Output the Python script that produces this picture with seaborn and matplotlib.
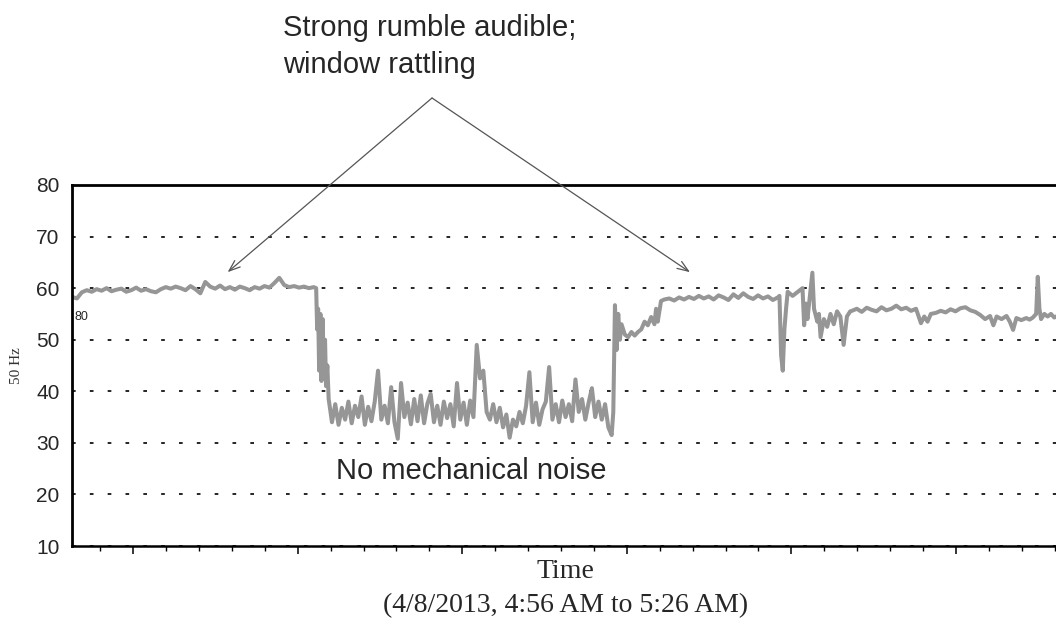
import numpy as np
import pandas as pd
import matplotlib
matplotlib.use("Agg")
import matplotlib.pyplot as plt
import seaborn as sns

# ---------------- data (minutes after 4:56 AM, level in dB at 50 Hz) ----------------
t_a = np.round(np.arange(0.0, 7.36, 0.15), 2)
v_a = [58.3, 58.0, 59.2, 59.6, 59.3, 59.8, 59.5, 60.0, 59.4, 59.7,
       59.9, 59.3, 59.6, 60.1, 59.5, 59.8, 59.4, 59.2, 59.8, 60.2,
       59.9, 60.3, 60.0, 59.6, 60.4, 59.8, 59.0, 61.2, 60.3, 59.9,
       60.5, 59.8, 60.2, 59.7, 60.3, 60.0, 59.6, 60.2, 59.9, 60.4,
       60.1, 61.0, 62.0, 60.6, 60.2, 60.4, 60.1, 60.3, 60.0, 60.2]

t_b = [7.42, 7.45, 7.48, 7.51, 7.55, 7.58, 7.62, 7.65, 7.69, 7.72, 7.76]
v_b = [60.0, 52.0, 56.0, 44.0, 55.0, 42.0, 54.0, 43.0, 50.0, 41.0, 45.0]

t_c = np.round(np.arange(7.8, 16.45, 0.1), 2)
v_c = [38.5, 34.0, 37.5, 33.5, 36.8, 34.5, 38.0, 33.8, 37.2, 35.0,
       39.0, 33.5, 37.0, 34.2, 38.0, 44.0, 34.5, 37.2, 33.8, 40.8,
       34.0, 30.8, 41.6, 35.0, 37.8, 33.6, 38.5, 34.2, 39.2, 33.8,
       37.6, 39.5, 34.0, 37.2, 33.5, 38.0, 34.8, 37.5, 33.2, 41.6,
       34.5, 37.8, 33.5, 38.2, 35.0, 49.0, 42.5, 44.0, 36.0, 34.5,
       37.5, 34.0, 36.8, 33.0, 35.5, 31.0, 34.5, 33.2, 36.0, 33.8,
       37.2, 43.7, 34.0, 37.8, 33.5, 36.5, 38.0, 44.7, 34.5, 37.5,
       34.0, 38.2, 35.0, 37.5, 34.2, 42.3, 36.0, 38.5, 34.5, 37.8,
       40.6, 35.0, 38.0, 34.5, 37.5, 33.0, 31.5]

t_d = [16.45, 16.5, 16.55, 16.6, 16.65, 16.7, 16.8, 16.9, 17.0, 17.1,
       17.2, 17.3, 17.4, 17.5, 17.6, 17.7, 17.75, 17.8, 17.9, 18.0]
v_d = [36.0, 56.7, 48.0, 55.0, 50.0, 53.0, 51.0, 50.5, 51.5, 50.8,
       51.5, 52.0, 53.5, 52.8, 54.4, 53.0, 56.0, 53.5, 57.5, 57.8]

t_e = np.round(np.arange(18.15, 21.46, 0.15), 2)
v_e = [58.0, 57.6, 58.2, 57.8, 58.3, 57.9, 58.5, 58.0, 58.4, 57.8,
       58.6, 58.2, 57.7, 58.8, 58.1, 59.0, 58.3, 57.9, 58.6, 58.0,
       58.4, 57.7, 58.2]

t_f = [21.5, 21.55, 21.6, 21.65, 21.7, 21.75, 21.9, 22.0, 22.1, 22.2,
       22.25, 22.3, 22.35, 22.45, 22.5, 22.55, 22.65, 22.7, 22.75, 22.85,
       22.95, 23.05, 23.15, 23.25, 23.35, 23.45, 23.55, 23.65]
v_f = [58.5, 47.0, 44.0, 52.0, 56.0, 59.3, 58.5, 59.0, 59.5, 60.0,
       52.8, 57.0, 54.0, 60.0, 63.0, 56.0, 53.5, 55.0, 50.5, 54.0,
       52.5, 55.0, 53.0, 55.5, 54.5, 49.0, 54.5, 55.5]

t_g = np.round(np.arange(23.7, 25.66, 0.15), 2)
v_g = [55.6, 56.0, 55.4, 56.2, 55.8, 55.5, 56.3, 55.7, 56.0, 56.6,
       55.9, 56.2, 55.6, 56.0]

t_h = [25.8, 25.9, 26.0, 26.1, 26.25, 26.4, 26.55, 26.7, 26.85, 27.0,
       27.15, 27.3, 27.45, 27.6, 27.75, 27.9, 28.0, 28.1, 28.25, 28.4,
       28.5, 28.6, 28.7, 28.85, 29.0, 29.1, 29.2, 29.3, 29.35, 29.4,
       29.45, 29.55, 29.65, 29.75, 29.85, 30.0]
v_h = [53.2, 54.5, 53.5, 55.0, 55.2, 55.6, 55.3, 55.9, 55.5, 56.1,
       56.3, 55.7, 55.4, 54.8, 54.0, 54.6, 52.8, 54.5, 54.0, 54.6,
       53.5, 51.9, 54.2, 53.8, 54.2, 53.9, 54.3, 55.0, 62.2, 56.0,
       54.0, 55.0, 54.5, 55.0, 54.3, 54.8]

y_ticks = [10, 20, 30, 40, 50, 60, 70, 80]

df = pd.DataFrame({
    "t": np.concatenate([t_a, t_b, t_c, t_d, t_e, t_f, t_g, t_h]),
    "v": np.concatenate([v_a, v_b, v_c, v_d, v_e, v_f, v_g, v_h]),
})

# ---------------- drawing ----------------
sns.set_style("white")
plt.rcParams["font.family"] = ["Liberation Sans", "DejaVu Sans"]

fig = plt.figure(figsize=(10.56, 6.4), dpi=100)
ax = fig.add_axes([72 / 1056, 94 / 640, 1 - 72 / 1056 + 0.003, 361 / 640])

sns.lineplot(data=df, x="t", y="v", ax=ax, color="#969696", linewidth=2.9,
             estimator=None, sort=False)

ax.set_xlim(0, 30)
ax.set_ylim(10, 80)
ax.set_yticks(y_ticks)
ax.set_yticklabels([str(v) for v in y_ticks], fontsize=15)
ax.yaxis.grid(True, linestyle=(0, (2.2, 8.5)), color="black", linewidth=1.2)
ax.xaxis.grid(False)
ax.tick_params(axis="y", length=0, pad=9)

minor = np.arange(0.86, 30, 1.0)
major = np.arange(1.86, 30, 5.0)
ax.set_xticks(major)
ax.set_xticks(minor, minor=True)
ax.set_xticklabels([])
ax.tick_params(axis="x", which="major", direction="out", length=6, width=1.1, color="black", bottom=True)
ax.tick_params(axis="x", which="minor", direction="out", length=3.5, width=1.0, color="black", bottom=True)

for side in ["top", "left"]:
    ax.spines[side].set_linewidth(2.0)
    ax.spines[side].set_color("black")
ax.spines["bottom"].set_linewidth(1.8)
ax.spines["bottom"].set_color("black")
ax.spines["right"].set_visible(False)

ax.set_ylabel("50 Hz", fontsize=11, family=["Liberation Serif", "DejaVu Serif"], color="#333333")
ax.yaxis.set_label_coords(-0.05, 0.5)
ax.set_xlabel("Time\n(4/8/2013, 4:56 AM to 5:26 AM)", fontsize=20,
              family=["Liberation Serif", "DejaVu Serif"], linespacing=1.5)
ax.xaxis.set_label_coords(0.5, -0.035)

ax.text(0.09, 53.8, "80", fontsize=9, ha="left", va="baseline")
ax.text(8.02, 23.0, "No mechanical noise", fontsize=21, ha="left", va="baseline")

fig.text(283 / 1056, 1 - 36 / 640, "Strong rumble audible;", fontsize=21, ha="left", va="baseline")
fig.text(283 / 1056, 1 - 73 / 640, "window rattling", fontsize=21, ha="left", va="baseline")

apex = (432 / 1056, 1 - 98 / 640)
for tip in [(4.73, 63.1), (18.78, 63.1)]:
    ax.annotate("", xy=tip, xycoords="data", xytext=apex, textcoords="figure fraction",
                arrowprops=dict(arrowstyle="->,head_length=0.8,head_width=0.3",
                                color="#555555", lw=0.9, shrinkA=0, shrinkB=0),
                annotation_clip=False)

fig.savefig("out.png", dpi=100)
